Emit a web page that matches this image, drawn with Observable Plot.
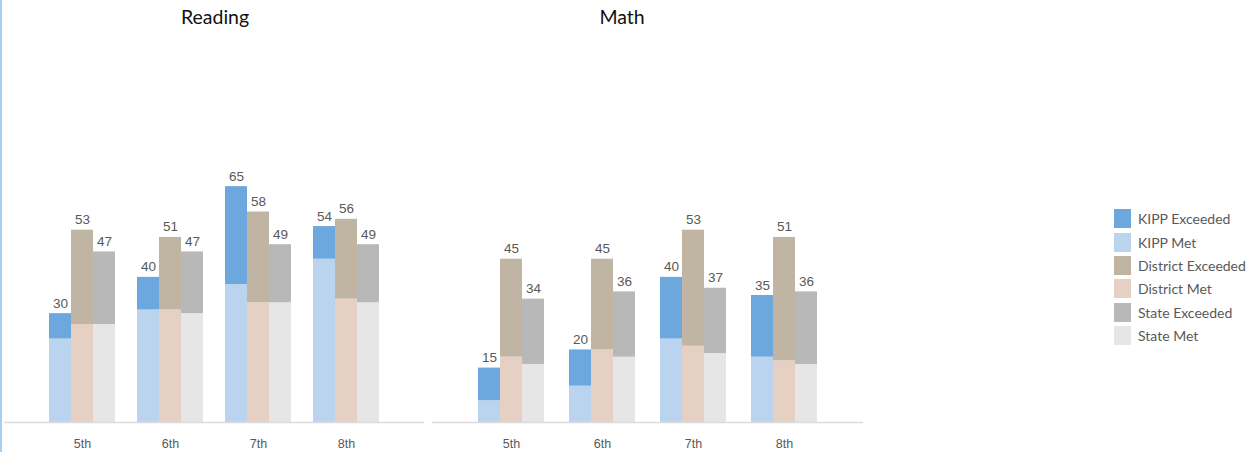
<!DOCTYPE html>
<html>
<head>
<meta charset="utf-8">
<script src="https://cdn.jsdelivr.net/npm/d3@7"></script>
<script src="https://cdn.jsdelivr.net/npm/@observablehq/plot@0.6"></script>
<style>
  html, body { margin: 0; padding: 0; background: #fff; }
  #wrap { position: relative; width: 1251px; height: 452px; overflow: hidden; }
  #edge { position: absolute; left: 0; top: 0; width: 2px; height: 452px; background: #a9d0f0; }
  .title { position: absolute; top: 5px; font-family: Lato, "Open Sans", sans-serif; font-size: 19.5px; color: #111; transform: translateX(-50%); white-space: nowrap; }
  .panel { position: absolute; top: 40px; }
  #legend { position: absolute; left: 1114px; top: 207px; font-family: Lato, "Open Sans", sans-serif; font-size: 14px; color: #595959; }
  .item { display: flex; align-items: center; height: 23.4px; }
  .sw { width: 17px; height: 19px; margin-right: 7px; }
</style>
</head>
<body>
<div id="wrap">
  <div id="edge"></div>
  <div class="title" style="left:215px">Reading</div>
  <div class="title" style="left:622px">Math</div>
  <div class="panel" id="reading" style="left:0px"></div>
  <div class="panel" id="math" style="left:426px"></div>
  <div id="legend"></div>
</div>
<script>
const grades = ["5th", "6th", "7th", "8th"];
const entities = ["KIPP", "District", "State"];
const seriesNames = ["KIPP Exceeded", "KIPP Met", "District Exceeded", "District Met", "State Exceeded", "State Met"];
const seriesColors = ["#6ca8dd", "#bad4f0", "#c0b4a3", "#e6d0c4", "#b8b8b8", "#e6e6e6"];

// Reading: total (Met + Exceeded) and Met portion, per grade
const readingTotalKIPP = [30, 40, 65, 54];
const readingTotalDistrict = [53, 51, 58, 56];
const readingTotalState = [47, 47, 49, 49];
const readingMetKIPP = [23, 31, 38, 45];
const readingMetDistrict = [27, 31, 33, 34];
const readingMetState = [27, 30, 33, 33];

// Math
const mathTotalKIPP = [15, 20, 40, 35];
const mathTotalDistrict = [45, 45, 53, 51];
const mathTotalState = [34, 36, 37, 36];
const mathMetKIPP = [6, 10, 23, 18];
const mathMetDistrict = [18, 20, 21, 17];
const mathMetState = [16, 18, 19, 16];

function buildRows(totals, mets) {
  const rows = [];
  grades.forEach((g, i) => {
    entities.forEach((e, j) => {
      rows.push({grade: g, entity: e, series: e + " Met", value: mets[j][i]});
      rows.push({grade: g, entity: e, series: e + " Exceeded", value: totals[j][i] - mets[j][i]});
    });
  });
  return rows;
}
function buildTotals(totals) {
  const rows = [];
  grades.forEach((g, i) => entities.forEach((e, j) => rows.push({grade: g, entity: e, total: totals[j][i]})));
  return rows;
}

function baseline(gradeList, insetLeft, insetRight) {
  return Plot.ruleY(gradeList.map(g => ({grade: g})), {fx: "grade", y: () => 0, stroke: "#dcdcdc", strokeWidth: 1.6, insetLeft, insetRight});
}

function panel(totals, mets, width) {
  const rows = buildRows(totals, mets);
  const tots = buildTotals(totals);
  return Plot.plot({
    width, height: 412,
    marginLeft: 3, marginRight: 0, marginTop: 128, marginBottom: 30,
    style: {background: "transparent", overflow: "visible"},
    fx: {domain: grades, paddingInner: 0.25, paddingOuter: 0.51, label: null},
    x: {domain: entities, padding: 0, axis: null},
    y: {domain: [0, 70], axis: null},
    color: {domain: seriesNames, range: seriesColors},
    marks: [
      Plot.barY(rows, {fx: "grade", x: "entity", y: "value", fill: "series", inset: 0}),
      baseline([grades[0]], -45, -12),
      baseline(grades.slice(1, -1), -12, -12),
      baseline([grades[grades.length - 1]], -12, -45),
      Plot.text(tots, {fx: "grade", x: "entity", y: "total", text: d => String(d.total), lineAnchor: "bottom", dy: -6, fill: "#595959", fontSize: 13.5, fontFamily: "Liberation Sans, Arial, sans-serif"}),
      Plot.axisFx({anchor: "bottom", tickSize: 0, tickPadding: 17, fontSize: 12.5, fontFamily: "Liberation Sans, Arial, sans-serif", color: "#595959", label: null})
    ]
  });
}

document.getElementById("reading").append(panel([readingTotalKIPP, readingTotalDistrict, readingTotalState], [readingMetKIPP, readingMetDistrict, readingMetState], 424));
document.getElementById("math").append(panel([mathTotalKIPP, mathTotalDistrict, mathTotalState], [mathMetKIPP, mathMetDistrict, mathMetState], 440));

const legend = document.getElementById("legend");
seriesNames.forEach((n, i) => {
  const it = document.createElement("div");
  it.className = "item";
  const sw = document.createElement("div");
  sw.className = "sw";
  sw.style.background = seriesColors[i];
  const t = document.createElement("span");
  t.textContent = n;
  it.append(sw, t);
  legend.append(it);
});
</script>
</body>
</html>
